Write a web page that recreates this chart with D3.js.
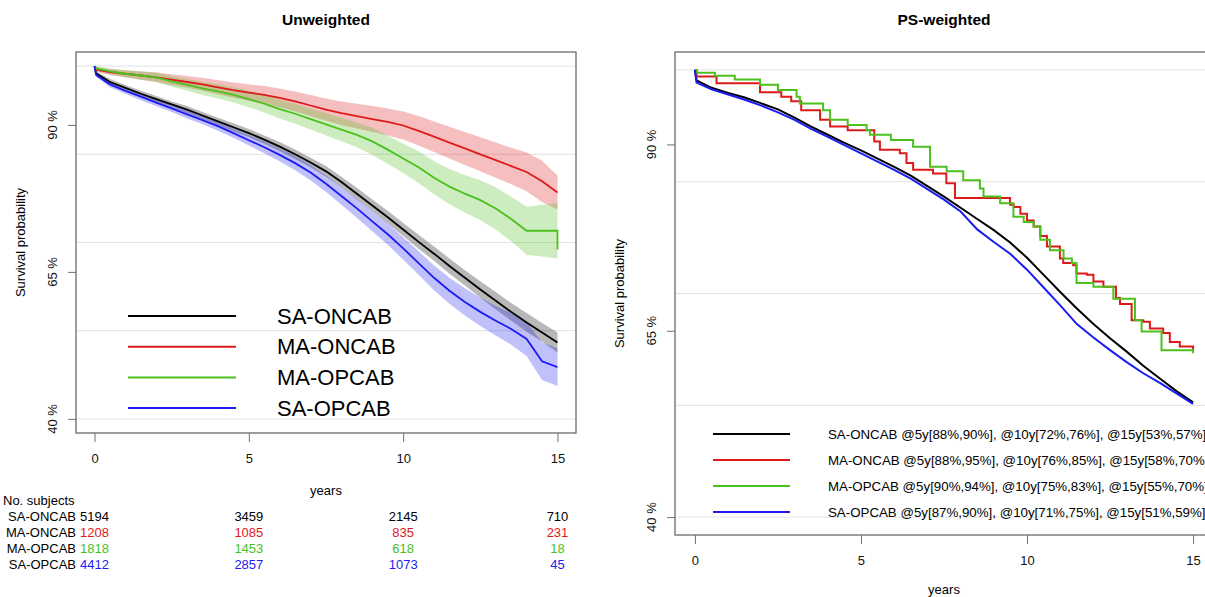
<!DOCTYPE html>
<html>
<head>
<meta charset="utf-8">
<script src="https://cdn.jsdelivr.net/npm/d3@7/dist/d3.min.js"></script>
<style>
  body { margin: 0; background: #fff; }
  svg { display: block; font-family: "Liberation Sans", Arial, sans-serif; }
</style>
</head>
<body>
<svg id="chart" width="1205" height="597"></svg>
<script>
// groups, in legend order
const groups = ["SA-ONCAB", "MA-ONCAB", "MA-OPCAB", "SA-OPCAB"];
const colors = ["#000000", "#dd1a1a", "#4cc01c", "#1c1cf2"];

const xTicks = [0, 5, 10, 15];
const yTicks = [40, 65, 90];
const gridVals = [40, 55, 70, 85, 100];

// ---- Unweighted (left panel) : survival % with 95% CI ----
const yearsL = [0, 0.05, 0.5, 1, 1.5, 2, 2.5, 3, 3.5, 4, 4.5, 5, 5.5, 6, 6.5, 7, 7.5, 8, 8.5, 9, 9.5, 10, 10.5, 11, 11.5, 12, 12.5, 13, 13.5, 14, 14.5, 15, 15];

const saOncabL   = [100, 98.8, 97.3, 96.3, 95.3, 94.4, 93.5, 92.6, 91.6, 90.6, 89.6, 88.6, 87.5, 86.3, 85.0, 83.6, 82.1, 80.3, 78.3, 76.3, 74.3, 72.2, 70.1, 68.1, 66.0, 64.0, 62.0, 60.1, 58.2, 56.4, 54.7, 53.0, 53.0];
const saOncabLlo = [100, 98.5, 96.8, 95.8, 94.8, 93.9, 93.0, 92.0, 91.0, 90.0, 88.9, 87.9, 86.8, 85.5, 84.2, 82.8, 81.2, 79.4, 77.3, 75.3, 73.2, 71.1, 68.9, 66.9, 64.7, 62.7, 60.6, 58.6, 56.7, 54.8, 53.1, 51.3, 51.3];
const saOncabLhi = [100, 99.1, 97.8, 96.8, 95.8, 94.9, 94.0, 93.2, 92.2, 91.2, 90.3, 89.3, 88.2, 87.1, 85.8, 84.4, 83.0, 81.2, 79.3, 77.3, 75.4, 73.3, 71.3, 69.3, 67.3, 65.3, 63.4, 61.6, 59.7, 58.0, 56.3, 54.7, 54.7];

const maOncabL   = [100, 99.4, 99.0, 98.7, 98.4, 98.1, 97.7, 97.3, 96.9, 96.4, 95.9, 95.5, 95.1, 94.6, 94.0, 93.3, 92.6, 92.0, 91.5, 91.0, 90.5, 89.9, 89.0, 88.0, 87.0, 86.0, 85.0, 84.0, 83.0, 82.0, 80.4, 78.5, 78.5];
const maOncabLlo = [100, 99.0, 98.5, 98.1, 97.7, 97.3, 96.8, 96.3, 95.8, 95.2, 94.6, 94.1, 93.6, 93.0, 92.3, 91.5, 90.7, 90.0, 89.4, 88.8, 88.2, 87.5, 86.5, 85.4, 84.3, 83.2, 82.1, 81.0, 79.9, 78.7, 76.9, 75.6, 75.6];
const maOncabLhi = [100, 99.8, 99.5, 99.3, 99.1, 98.9, 98.6, 98.3, 98.0, 97.6, 97.2, 96.9, 96.6, 96.2, 95.7, 95.1, 94.5, 94.0, 93.6, 93.2, 92.8, 92.3, 91.5, 90.6, 89.7, 88.8, 87.9, 87.0, 86.1, 85.3, 83.9, 81.4, 81.4];

const maOpcabL   = [100, 99.6, 99.1, 98.7, 98.4, 98.1, 97.4, 96.8, 96.2, 95.7, 95.1, 94.4, 93.6, 92.7, 91.9, 91.0, 90.1, 89.2, 88.3, 87.2, 85.8, 84.3, 82.8, 81.0, 79.5, 78.3, 77.2, 75.8, 74.0, 72.0, 72.0, 72.0, 68.8];
const maOpcabLlo = [100, 99.2, 98.6, 98.1, 97.7, 97.3, 96.5, 95.8, 95.1, 94.5, 93.8, 93.0, 92.1, 91.1, 90.2, 89.2, 88.2, 87.2, 86.2, 84.9, 83.4, 81.8, 80.1, 78.2, 76.5, 75.1, 73.8, 72.2, 70.2, 67.9, 67.6, 67.3, 62.5];
const maOpcabLhi = [100, 100, 99.6, 99.3, 99.1, 98.9, 98.3, 97.8, 97.3, 96.9, 96.4, 95.8, 95.1, 94.3, 93.6, 92.8, 92.0, 91.2, 90.4, 89.5, 88.2, 86.8, 85.5, 83.8, 82.5, 81.5, 80.6, 79.4, 77.8, 76.1, 76.4, 76.7, 74.5];

const saOpcabL   = [100, 98.5, 96.9, 95.8, 94.8, 93.8, 92.8, 91.8, 90.8, 89.8, 88.6, 87.4, 86.2, 84.9, 83.5, 81.9, 80.0, 77.9, 75.8, 73.6, 71.4, 69.0, 66.5, 64.0, 61.8, 59.9, 58.2, 56.7, 55.3, 53.6, 49.8, 48.8, 48.8];
const saOpcabLlo = [100, 98.2, 96.4, 95.3, 94.2, 93.2, 92.2, 91.1, 90.1, 89.0, 87.8, 86.5, 85.2, 83.8, 82.3, 80.6, 78.6, 76.4, 74.2, 71.9, 69.6, 67.1, 64.5, 61.9, 59.6, 57.6, 55.8, 54.2, 52.6, 50.7, 46.6, 45.6, 45.6];
const saOpcabLhi = [100, 98.8, 97.4, 96.3, 95.4, 94.4, 93.4, 92.5, 91.5, 90.6, 89.4, 88.3, 87.2, 86.0, 84.7, 83.2, 81.4, 79.4, 77.4, 75.3, 73.2, 70.9, 68.5, 66.1, 64.0, 62.2, 60.6, 59.2, 58.0, 56.5, 53.0, 52.0, 52.0];

// number at risk table
const riskTimes = [0, 5, 10, 15];
const riskSaOncab = [5194, 3459, 2145, 710];
const riskMaOncab = [1208, 1085, 835, 231];
const riskMaOpcab = [1818, 1453, 618, 18];
const riskSaOpcab = [4412, 2857, 1073, 45];

// ---- PS-weighted (right panel) ----
const yearsR = [0, 0.05, 0.5, 1, 1.5, 2, 2.5, 3, 3.5, 4, 4.5, 5, 5.5, 6, 6.5, 7, 7.5, 8, 8.5, 9, 9.5, 10, 10.5, 11, 11.5, 12, 12.5, 13, 13.5, 14, 14.5, 15];
const saOncabR = [100, 98.6, 97.6, 96.9, 96.3, 95.5, 94.7, 93.6, 92.4, 91.3, 90.2, 89.2, 88.1, 87.0, 85.8, 84.4, 83.0, 81.5, 80.0, 78.5, 76.8, 74.8, 72.5, 70.2, 68.0, 65.9, 64.0, 62.2, 60.3, 58.6, 56.9, 55.4];
const saOpcabR = [100, 98.3, 97.4, 96.7, 96.0, 95.2, 94.3, 93.3, 92.1, 91.0, 89.9, 88.8, 87.7, 86.6, 85.4, 84.0, 82.6, 81.0, 78.6, 76.9, 75.3, 73.2, 70.8, 68.4, 65.9, 64.1, 62.4, 60.8, 59.3, 58.0, 56.6, 55.2];

const maOncabRyears = [0, 0.05, 0.65, 1.96, 2.6, 2.9, 3.2, 3.77, 4.07, 4.6, 5.4, 5.57, 6.17, 6.37, 6.57, 7.17, 7.57, 7.83, 9.49, 9.6, 9.8, 10.0, 10.2, 10.4, 10.6, 10.99, 11.09, 11.39, 11.49, 11.8, 12.0, 12.3, 12.68, 12.8, 13.15, 13.5, 13.7, 14.1, 14.3, 14.6, 15.0];
const maOncabR      = [100, 99.1, 98.2, 97.0, 96.4, 95.8, 94.6, 93.3, 92.4, 91.9, 90.4, 89.3, 88.8, 87.5, 86.6, 86.1, 84.8, 82.8, 81.9, 81.6, 80.7, 79.8, 79.0, 77.7, 76.3, 74.7, 74.1, 73.8, 72.7, 72.5, 71.6, 70.9, 69.4, 68.6, 66.4, 66.2, 65.3, 64.7, 63.5, 62.9, 62.4];

const maOpcabRyears = [0, 0.05, 0.6, 1.2, 1.96, 2.5, 3.06, 3.16, 3.86, 4.07, 4.6, 5.17, 5.27, 5.9, 6.57, 7.08, 7.58, 8.08, 8.58, 8.69, 9.19, 9.59, 9.9, 10.2, 10.4, 10.69, 11.1, 11.35, 11.49, 12.0, 12.6, 13.25, 13.45, 14.05, 15.0];
const maOpcabR      = [100, 99.6, 99.2, 98.7, 98.0, 97.3, 96.4, 95.5, 94.6, 93.3, 92.6, 91.9, 91.3, 90.6, 89.7, 87.0, 86.4, 85.2, 84.1, 83.0, 82.1, 80.3, 79.6, 79.0, 77.2, 75.8, 74.7, 74.1, 71.4, 70.9, 69.3, 66.4, 64.9, 62.4, 62.0];

const legendR = [
  "SA-ONCAB @5y[88%,90%], @10y[72%,76%], @15y[53%,57%]",
  "MA-ONCAB @5y[88%,95%], @10y[76%,85%], @15y[58%,70%]",
  "MA-OPCAB @5y[90%,94%], @10y[75%,83%], @15y[55%,70%]",
  "SA-OPCAB @5y[87%,90%], @10y[71%,75%], @15y[51%,59%]"
];

const svg = d3.select("#chart");

function zip(xs, ys) { return xs.map((t, i) => ({ t: t, s: ys[i] })); }

// frame, grid and axes of one panel
function drawFrame(p) {
  const x = d3.scaleLinear().domain([-0.6, 15.6]).range([p.left, p.right]);
  const y = d3.scaleLinear().domain([37.6, 102.4]).range([p.bottom, p.top]);
  const g = svg.append("g");

  g.selectAll(".grid")
    .data(gridVals)
    .enter()
    .append("line")
    .attr("x1", p.left).attr("x2", p.right)
    .attr("y1", d => y(d)).attr("y2", d => y(d))
    .attr("stroke", "#e2e2e2")
    .attr("stroke-width", 1);

  const xa = g.append("g")
    .attr("transform", "translate(0," + p.bottom + ")")
    .call(d3.axisBottom(x).tickValues(xTicks).tickSize(9).tickPadding(12).tickFormat(d3.format("d")));
  xa.select(".domain").remove();
  xa.selectAll("line").attr("stroke", "#707070");
  xa.selectAll("text").style("font-size", "13px").attr("fill", "#111");

  const ya = g.append("g")
    .attr("transform", "translate(" + p.left + ",0)")
    .call(d3.axisLeft(y).tickValues(yTicks).tickSize(8));
  ya.select(".domain").remove();
  ya.selectAll("line").attr("stroke", "#707070");
  ya.selectAll("text").remove();

  g.selectAll(".ylab")
    .data(yTicks)
    .enter()
    .append("text")
    .attr("transform", d => "translate(" + (p.left - 24) + "," + y(d) + ") rotate(-90)")
    .attr("text-anchor", "middle")
    .attr("dy", "0.35em")
    .style("font-size", "13px")
    .attr("fill", "#111")
    .text(d => d + " %");

  g.append("text")
    .attr("transform", "translate(" + (p.left - 56) + "," + ((p.top + p.bottom) / 2) + ") rotate(-90)")
    .attr("text-anchor", "middle")
    .attr("dy", "0.35em")
    .style("font-size", "13px")
    .text("Survival probability");

  g.append("text")
    .attr("x", (p.left + p.right) / 2).attr("y", 20)
    .attr("dy", "0.35em")
    .attr("text-anchor", "middle")
    .style("font-size", "15.5px")
    .style("font-weight", "bold")
    .text(p.title);

  g.append("text")
    .attr("x", (p.left + p.right) / 2).attr("y", p.yearsY)
    .attr("dy", "0.35em")
    .attr("text-anchor", "middle")
    .style("font-size", "13px")
    .text("years");

  return { g: g, x: x, y: y, box: () => g.append("rect")
    .attr("x", p.left).attr("y", p.top)
    .attr("width", p.right - p.left).attr("height", p.bottom - p.top)
    .attr("fill", "none").attr("stroke", "#6a6a6a").attr("stroke-width", 1.3) };
}

// ---------- left panel ----------
const left = drawFrame({ left: 76, right: 576, top: 52, bottom: 433, title: "Unweighted", yearsY: 490 });

const seriesL = [
  { mid: saOncabL, lo: saOncabLlo, hi: saOncabLhi },
  { mid: maOncabL, lo: maOncabLlo, hi: maOncabLhi },
  { mid: maOpcabL, lo: maOpcabLlo, hi: maOpcabLhi },
  { mid: saOpcabL, lo: saOpcabLlo, hi: saOpcabLhi }
];

const bandL = d3.area()
  .x((d, i) => left.x(yearsL[i]))
  .y0((d, i) => left.y(d.lo))
  .y1((d, i) => left.y(d.hi));

seriesL.forEach((s, k) => {
  left.g.append("path")
    .datum(s.lo.map((v, i) => ({ lo: v, hi: s.hi[i] })))
    .attr("d", bandL)
    .attr("fill", colors[k])
    .attr("fill-opacity", 0.28);
});

const lineL = d3.line().x(d => left.x(d.t)).y(d => left.y(d.s));
seriesL.forEach((s, k) => {
  left.g.append("path")
    .datum(zip(yearsL, s.mid))
    .attr("d", lineL)
    .attr("fill", "none")
    .attr("stroke", colors[k])
    .attr("stroke-width", 1.8);
});
left.box();

// legend inside left panel
const legL = left.g.selectAll(".legL")
  .data(groups)
  .enter()
  .append("g")
  .attr("transform", (d, i) => "translate(0," + (316 + i * 30.7) + ")");
legL.append("line")
  .attr("x1", 128).attr("x2", 236)
  .attr("stroke", (d, i) => colors[i])
  .attr("stroke-width", 2);
legL.append("text")
  .attr("x", 277)
  .attr("dy", "0.35em")
  .style("font-size", "22px")
  .text(d => d);

// numbers at risk
svg.append("text")
  .attr("x", 3).attr("y", 500).attr("dy", "0.35em")
  .style("font-size", "13px")
  .text("No. subjects");

const riskRows = [riskSaOncab, riskMaOncab, riskMaOpcab, riskSaOpcab];
riskRows.forEach((row, k) => {
  const ry = 516 + k * 16;
  svg.append("text")
    .attr("x", 76).attr("y", ry).attr("dy", "0.35em")
    .attr("text-anchor", "end")
    .style("font-size", "13px")
    .text(groups[k]);
  svg.selectAll(".risk" + k)
    .data(row)
    .enter()
    .append("text")
    .attr("x", (d, i) => left.x(riskTimes[i]))
    .attr("y", ry).attr("dy", "0.35em")
    .attr("text-anchor", "middle")
    .style("font-size", "13px")
    .attr("fill", colors[k])
    .text(d => d);
});

// ---------- right panel ----------
const right = drawFrame({ left: 675, right: 1213, top: 52, bottom: 535, title: "PS-weighted", yearsY: 589 });

const lineR = d3.line().x(d => right.x(d.t)).y(d => right.y(d.s));
const stepR = d3.line().curve(d3.curveStepAfter).x(d => right.x(d.t)).y(d => right.y(d.s));

const seriesR = [
  { pts: zip(yearsR, saOncabR), gen: lineR },
  { pts: zip(maOncabRyears, maOncabR), gen: stepR },
  { pts: zip(maOpcabRyears, maOpcabR), gen: stepR },
  { pts: zip(yearsR, saOpcabR), gen: lineR }
];
seriesR.forEach((s, k) => {
  right.g.append("path")
    .datum(s.pts)
    .attr("d", s.gen)
    .attr("fill", "none")
    .attr("stroke", colors[k])
    .attr("stroke-width", 2);
});
right.box();

const legR = right.g.selectAll(".legR")
  .data(legendR)
  .enter()
  .append("g")
  .attr("transform", (d, i) => "translate(0," + (434 + i * 26) + ")");
legR.append("line")
  .attr("x1", 713).attr("x2", 790)
  .attr("stroke", (d, i) => colors[i])
  .attr("stroke-width", 2);
legR.append("text")
  .attr("x", 828)
  .attr("dy", "0.35em")
  .style("font-size", "13.3px")
  .text(d => d);
</script>
</body>
</html>
